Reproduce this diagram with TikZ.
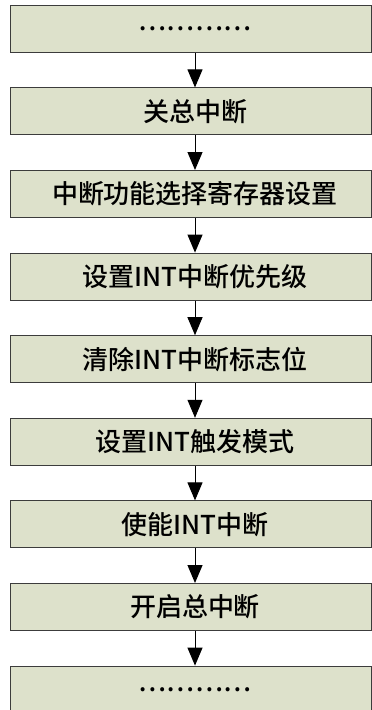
\documentclass[tikz,border=0pt]{standalone}
\usepackage{fontspec}
\newfontfamily\cjk{Noto Sans CJK SC}[BoldFont={Noto Sans CJK SC Medium}]
\usetikzlibrary{arrows.meta}
\definecolor{stepfill}{HTML}{DDE1CB}
\definecolor{stepline}{HTML}{3C3C3C}

\begin{document}
\begin{tikzpicture}[->,>={Triangle[width=15pt,length=18pt]},x=1pt,y=1pt,
    stepbox/.style={shape=rectangle,draw=stepline,fill=stepfill,line width=1pt,
      minimum width=361pt,minimum height=47pt,inner sep=0pt,
      font=\cjk\bfseries\fontsize{26}{30}\selectfont}]
            \useasboundingbox (0,0) rectangle (372,-710);
            \node[stepbox](S0)at(190.5, -28.8){\hspace*{9pt}…………};
            \node[stepbox](S1)at(190.5, -111.4){\hspace*{9pt}关总中断};
            \node[stepbox](S2)at(190.5, -194.0){\hspace*{9pt}中断功能选择寄存器设置};
            \node[stepbox](S3)at(190.5, -276.6){\hspace*{9pt}设置INT中断优先级};
            \node[stepbox](S4)at(190.5, -359.2){\hspace*{9pt}清除INT中断标志位};
            \node[stepbox](S5)at(190.5, -441.8){\hspace*{9pt}设置INT触发模式};
            \node[stepbox](S6)at(190.5, -524.4){\hspace*{9pt}使能INT中断};
            \node[stepbox](S7)at(190.5, -607.0){\hspace*{9pt}开启总中断};
            \node[stepbox](S8)at(190.5, -689.6){\hspace*{9pt}…………};
            \path[line width=1pt]
            ([xshift=4.5pt]S0.south) edge ([xshift=4.5pt]S1.north)
            ([xshift=4.5pt]S1.south) edge ([xshift=4.5pt]S2.north)
            ([xshift=4.5pt]S2.south) edge ([xshift=4.5pt]S3.north)
            ([xshift=4.5pt]S3.south) edge ([xshift=4.5pt]S4.north)
            ([xshift=4.5pt]S4.south) edge ([xshift=4.5pt]S5.north)
            ([xshift=4.5pt]S5.south) edge ([xshift=4.5pt]S6.north)
            ([xshift=4.5pt]S6.south) edge ([xshift=4.5pt]S7.north)
            ([xshift=4.5pt]S7.south) edge ([xshift=4.5pt]S8.north);
        \end{tikzpicture}
\end{document}
